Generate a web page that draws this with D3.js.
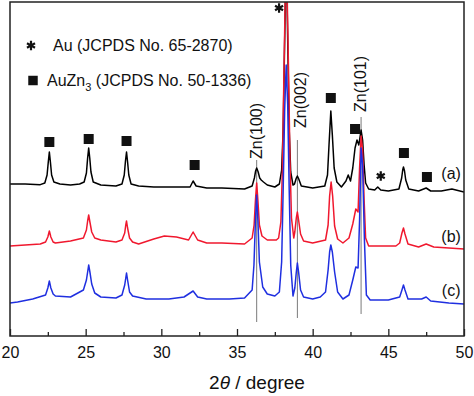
<!DOCTYPE html>
<html>
<head>
<meta charset="utf-8">
<script src="https://cdn.jsdelivr.net/npm/d3@7"></script>
<style>
  html, body { margin: 0; padding: 0; background: #fff; }
  svg { display: block; font-family: "Liberation Sans", Arial, sans-serif; }
</style>
</head>
<body>
<div id="chart"></div>
<script>
// 2θ (degree), intensity (a.u., curves already stacked)
const patternA = [
  [20.0, 456], [21.0, 456], [22.0, 454], [22.3, 459], [22.45, 483], [22.53, 522], [22.6, 552], [22.67, 522],
  [22.75, 483], [22.9, 462], [23.3, 456], [24.0, 453], [24.6, 456], [24.9, 462], [25.05, 489], [25.13, 534],
  [25.2, 564], [25.27, 534], [25.35, 492], [25.5, 462], [26.0, 453], [27.0, 450], [27.4, 456], [27.55, 483],
  [27.63, 525], [27.7, 552], [27.77, 522], [27.85, 483], [28.0, 456], [28.5, 450], [29.5, 447], [31.0, 447],
  [31.9, 447], [32.1, 465], [32.3, 450], [33.0, 444], [34.0, 444], [35.5, 441], [36.0, 450], [36.15, 474],
  [36.23, 495], [36.3, 504], [36.4, 492], [36.5, 474], [36.6, 468], [36.75, 462], [37.0, 453], [37.5, 447],
  [37.8, 456], [37.95, 498], [38.05, 618], [38.15, 888], [38.25, 1158], [38.35, 888], [38.45, 618], [38.55, 492],
  [38.7, 453], [38.8, 456], [38.92, 474], [38.99, 480], [39.08, 471], [39.25, 450], [40.0, 444], [40.8, 450],
  [40.98, 483], [41.08, 573], [41.2, 675], [41.3, 603], [41.42, 504], [41.6, 462], [41.9, 447], [42.2, 465],
  [42.35, 483], [42.5, 465], [42.65, 504], [42.8, 564], [42.93, 588], [43.05, 573], [43.2, 618], [43.3, 588],
  [43.4, 513], [43.5, 459], [43.7, 441], [44.1, 438], [44.3, 447], [44.5, 438], [45.0, 435], [45.7, 441],
  [45.88, 474], [45.95, 498], [46.0, 507], [46.07, 495], [46.15, 468], [46.35, 441], [47.0, 435], [47.5, 444],
  [47.8, 435], [48.5, 435], [49.2, 441], [50.0, 432]
];

const patternB = [
  [20.0, 270], [21.0, 273], [22.0, 276], [22.35, 282], [22.5, 297], [22.6, 315], [22.7, 297], [22.85, 282],
  [23.0, 279], [24.0, 285], [24.85, 294], [25.05, 318], [25.13, 345], [25.2, 363], [25.28, 342], [25.4, 312],
  [25.6, 294], [26.0, 288], [27.0, 282], [27.4, 288], [27.58, 309], [27.65, 333], [27.7, 345], [27.77, 324],
  [27.9, 294], [28.1, 282], [28.5, 276], [29.5, 291], [30.2, 300], [31.0, 297], [31.8, 288], [32.1, 312],
  [32.4, 288], [33.0, 279], [34.0, 279], [35.5, 276], [36.0, 294], [36.13, 333], [36.22, 408], [36.3, 459],
  [36.38, 408], [36.48, 333], [36.65, 300], [37.0, 288], [37.6, 288], [37.75, 294], [37.9, 342], [38.0, 498],
  [38.1, 780], [38.25, 1188], [38.4, 810], [38.5, 528], [38.6, 354], [38.75, 294], [38.82, 312], [38.92, 354],
  [38.99, 372], [39.07, 348], [39.2, 306], [39.4, 285], [40.0, 279], [40.85, 288], [41.02, 333], [41.12, 420],
  [41.22, 462], [41.32, 420], [41.45, 330], [41.65, 291], [42.0, 279], [42.4, 294], [42.65, 336], [42.85, 381],
  [43.0, 372], [43.1, 504], [43.2, 600], [43.3, 558], [43.4, 408], [43.5, 294], [43.7, 270], [44.5, 270],
  [45.5, 270], [45.75, 279], [45.9, 309], [46.0, 324], [46.1, 306], [46.3, 276], [47.0, 267], [47.5, 276],
  [48.0, 267], [49.0, 264], [50.0, 261]
];

const patternC = [
  [20.0, 99], [20.5, 102], [21.5, 111], [22.35, 123], [22.5, 144], [22.6, 165], [22.7, 144], [22.85, 126],
  [23.0, 120], [24.0, 117], [24.85, 138], [25.05, 168], [25.13, 192], [25.2, 213], [25.28, 192], [25.4, 156],
  [25.6, 129], [26.0, 117], [27.0, 114], [27.4, 123], [27.58, 153], [27.65, 174], [27.7, 189], [27.77, 168],
  [27.9, 132], [28.1, 120], [29.0, 111], [30.5, 111], [31.5, 117], [32.1, 135], [32.4, 117], [33.0, 111],
  [34.5, 111], [35.5, 114], [36.0, 138], [36.12, 213], [36.22, 348], [36.3, 423], [36.38, 348], [36.48, 222],
  [36.7, 147], [37.0, 126], [37.5, 120], [37.8, 132], [37.95, 222], [38.05, 438], [38.15, 678], [38.25, 813],
  [38.35, 693], [38.45, 438], [38.55, 213], [38.7, 120], [38.82, 144], [38.92, 192], [38.99, 219], [39.07, 192],
  [39.2, 138], [39.4, 117], [40.0, 111], [40.5, 117], [40.85, 132], [41.02, 198], [41.12, 252], [41.2, 273],
  [41.3, 252], [41.45, 192], [41.65, 132], [42.0, 111], [42.4, 123], [42.65, 168], [42.85, 207], [43.0, 204],
  [43.1, 348], [43.2, 564], [43.3, 513], [43.42, 288], [43.55, 123], [43.8, 108], [45.0, 108], [45.75, 117],
  [45.9, 138], [46.0, 153], [46.1, 138], [46.3, 111], [47.2, 111], [47.5, 117], [47.8, 105], [49.0, 99],
  [50.0, 96]
];

const seriesNames = ["(a)", "(b)", "(c)"];
const seriesColors = ["#000000", "#f0182e", "#1f2fe0"];
const seriesLabelPos = [[49.15, 486], [49.15, 297], [49.15, 135]];

// AuZn3 squares and Au stars
const squareMarks = [[22.6, 582], [25.2, 591], [27.7, 585], [32.2, 513], [41.2, 714], [42.8, 621], [46.03, 549], [47.55, 477]];
const starMarks = [[37.78, 984], [44.5, 480]];

// Zn reference lines
const znNames = ["Zn(100)", "Zn(002)", "Zn(101)"];
const znAngles = [36.3, 38.99, 43.2];
const znLineTop = [528, 588, 657];
const znLineBottom = [42, 54, 66];
const znLabelAngle = [36.3, 39.2, 43.2];
const znLabelBottom = [531, 624, 672];

const majorTicks = [20, 25, 30, 35, 40, 45, 50];
const minorTicks = [22.5, 27.5, 32.5, 37.5, 42.5, 47.5];

const margin = { top: 2, right: 10, bottom: 60, left: 10 };
const width = 474 - margin.left - margin.right;
const height = 396 - margin.top - margin.bottom;

const svg = d3.select("#chart")
  .append("svg")
  .attr("width", width + margin.left + margin.right)
  .attr("height", height + margin.top + margin.bottom);

const g = svg.append("g")
  .attr("transform", `translate(${margin.left},${margin.top})`);

const x = d3.scaleLinear().domain([20, 50]).range([0, width]);
const y = d3.scaleLinear().domain([0, 1002]).range([height, 0]);

svg.append("defs").append("clipPath")
  .attr("id", "plot-clip")
  .append("rect")
  .attr("width", width)
  .attr("height", height);

// reference lines under the curves
znAngles.forEach((a, i) => {
  g.append("line")
    .attr("x1", x(a)).attr("x2", x(a))
    .attr("y1", y(znLineTop[i])).attr("y2", y(znLineBottom[i]))
    .attr("stroke", "#7a7a7a")
    .attr("stroke-width", 1);
});

const line = d3.line()
  .x(d => x(d[0]))
  .y(d => y(d[1]));

const curves = g.append("g").attr("clip-path", "url(#plot-clip)");
[patternA, patternB, patternC].forEach((pts, i) => {
  curves.append("path")
    .datum(pts)
    .attr("fill", "none")
    .attr("stroke", seriesColors[i])
    .attr("stroke-width", 1.5)
    .attr("stroke-linejoin", "round")
    .attr("d", line);
});

// frame
g.append("rect")
  .attr("width", width)
  .attr("height", height)
  .attr("fill", "none")
  .attr("stroke", "#222")
  .attr("stroke-width", 1.5);

const xAxis = g.append("g")
  .attr("transform", `translate(0,${height})`)
  .call(d3.axisBottom(x).tickValues(majorTicks).tickFormat(d3.format("d"))
    .tickSizeInner(-7).tickSizeOuter(0).tickPadding(11));
xAxis.select(".domain").remove();
xAxis.selectAll("line").attr("stroke", "#222").attr("stroke-width", 1.3);
xAxis.selectAll("text")
  .attr("font-family", "Liberation Sans, Arial, sans-serif")
  .attr("font-size", 16)
  .attr("fill", "#111");

const minorAxis = g.append("g")
  .attr("transform", `translate(0,${height})`)
  .call(d3.axisBottom(x).tickValues(minorTicks).tickFormat("").tickSizeInner(-4).tickSizeOuter(0));
minorAxis.select(".domain").remove();
minorAxis.selectAll("line").attr("stroke", "#222").attr("stroke-width", 1.3);

// x title
const title = svg.append("text")
  .attr("x", 257)
  .attr("y", 389)
  .attr("text-anchor", "middle")
  .attr("font-size", 19)
  .attr("fill", "#111");
title.append("tspan").text("2");
title.append("tspan").attr("font-style", "italic").text("θ");
title.append("tspan").text(" / degree");

// markers
g.selectAll(".sq")
  .data(squareMarks)
  .join("path")
  .attr("class", "sq")
  .attr("transform", d => `translate(${x(d[0])},${y(d[1])})`)
  .attr("d", d3.symbol(d3.symbolSquare, 100))
  .attr("fill", "#111");

g.selectAll(".star")
  .data(starMarks)
  .join("path")
  .attr("class", "star")
  .attr("transform", d => `translate(${x(d[0])},${y(d[1])})`)
  .attr("d", d3.symbol(d3.symbolAsterisk, 60))
  .attr("fill", "none")
  .attr("stroke", "#111")
  .attr("stroke-width", 2.2);

// Zn labels, rotated
znNames.forEach((name, i) => {
  g.append("text")
    .attr("transform", `translate(${x(znLabelAngle[i])},${y(znLabelBottom[i])}) rotate(-90)`)
    .attr("dy", "0.33em")
    .attr("font-size", 16)
    .attr("fill", "#111")
    .text(name);
});

// curve labels
seriesNames.forEach((name, i) => {
  g.append("text")
    .attr("x", x(seriesLabelPos[i][0]))
    .attr("y", y(seriesLabelPos[i][1]))
    .attr("dy", "0.33em")
    .attr("text-anchor", "middle")
    .attr("font-size", 16)
    .attr("fill", "#111")
    .text(name);
});

// legend
const legend = svg.append("g");
legend.append("path")
  .attr("transform", "translate(31,45.5)")
  .attr("d", d3.symbol(d3.symbolAsterisk, 60))
  .attr("fill", "none")
  .attr("stroke", "#111")
  .attr("stroke-width", 2.2);
legend.append("text")
  .attr("x", 53).attr("y", 51)
  .attr("font-size", 16)
  .attr("fill", "#111")
  .text("Au (JCPDS No. 65-2870)");

legend.append("path")
  .attr("transform", "translate(33,80.5)")
  .attr("d", d3.symbol(d3.symbolSquare, 90))
  .attr("fill", "#111");
const leg2 = legend.append("text")
  .attr("x", 47).attr("y", 86)
  .attr("font-size", 16)
  .attr("fill", "#111");
leg2.append("tspan").text("AuZn");
leg2.append("tspan").attr("font-size", 11).attr("dy", 5).text("3");
leg2.append("tspan").attr("dy", -5).text(" (JCPDS No. 50-1336)");
</script>
</body>
</html>
